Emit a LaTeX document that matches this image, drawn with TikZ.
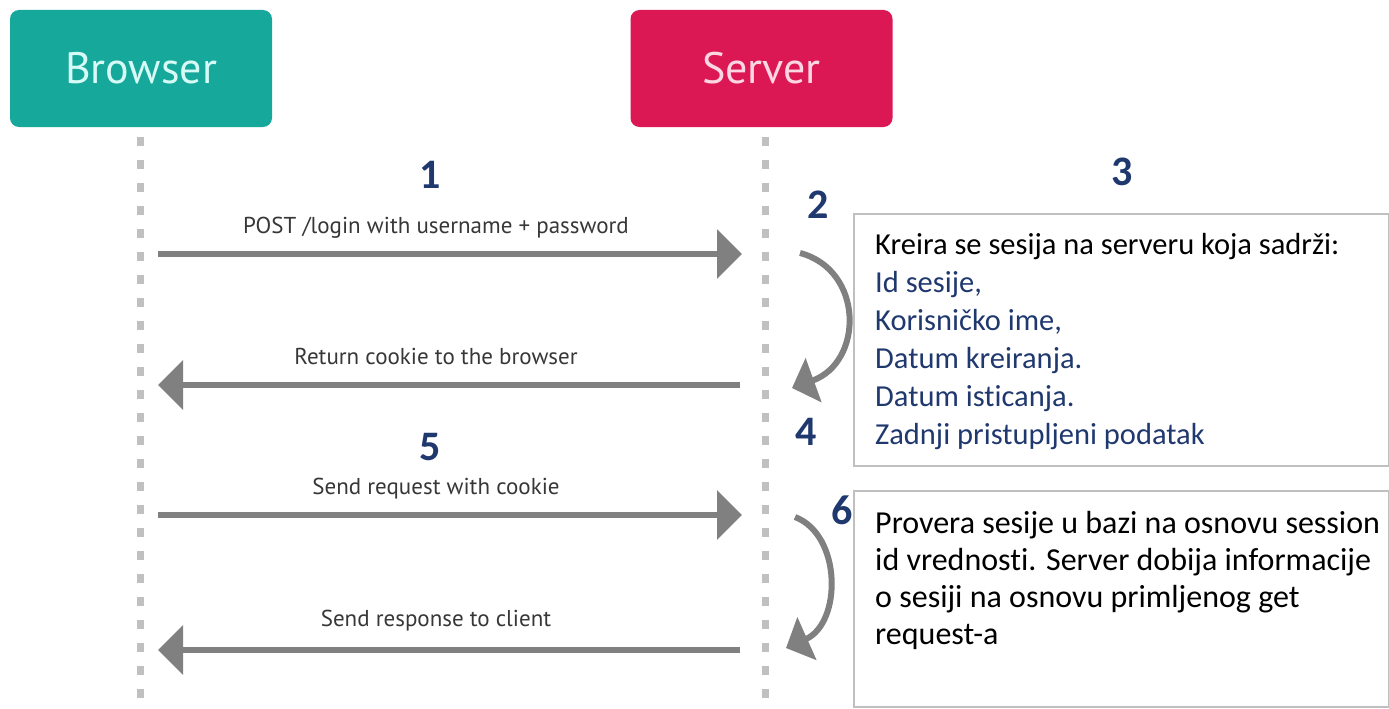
\documentclass[tikz,border=0pt]{standalone}
\usepackage{fontspec}
\setmainfont{Carlito}[Ligatures=NoCommon]
\newfontfamily\headfont{PT Sans}
\usepackage{tikz}
\usetikzlibrary{positioning,arrows.meta}
\definecolor{cbrowser}{RGB}{22,168,155}
\definecolor{cserver}{RGB}{220,24,84}
\definecolor{cbrowsertxt}{RGB}{214,250,245}
\definecolor{cservertxt}{RGB}{252,214,226}
\definecolor{cline}{RGB}{192,192,192}
\definecolor{cmsg}{RGB}{128,128,128}
\definecolor{cnavy}{RGB}{31,56,110}
\definecolor{cbox}{RGB}{191,191,191}
\definecolor{ctxt}{RGB}{55,55,55}

\begin{document}
\begin{tikzpicture}[
  x=1pt,y=-1pt,
  % the two parties on top, each with its lifeline below
  actor/.style={rounded corners=9pt,minimum width=262pt,minimum height=117pt,inner sep=0pt,
    font=\headfont\fontsize{44}{50}\selectfont},
  life/.style={cline,line width=7pt,dash pattern=on 9pt off 14pt},
  msg/.style={-{Triangle[length=25pt,width=48pt]},cmsg,line width=6.5pt},
  msglab/.style={font=\headfont\fontsize{23}{27}\selectfont,text=ctxt,inner sep=0pt},
  turn/.style={-{Triangle[length=23pt,width=46pt]},cmsg,line width=6pt},
  stepnum/.style={font=\bfseries\fontsize{42}{48}\selectfont,text=cnavy,inner sep=0pt},
  infobox/.style={draw=cbox,line width=1.5pt,anchor=north west,inner sep=0pt},
  info/.style={anchor=base west,inner sep=0pt,font=\fontsize{30.5}{36}\selectfont},
]
\useasboundingbox (0,0) rectangle (1389,709);

% =========== parties and lifelines ==========================================
\node[actor,fill=cbrowser,text=cbrowsertxt] (browser) at (141,68.5) {Browser};
\node[actor,fill=cserver,text=cservertxt]   (server)  at (761.5,68.5) {Server};
\coordinate (btop) at (140,137);
\coordinate (bbot) at (140,709);
\coordinate (stop) at (765,137);
\coordinate (sbot) at (765,709);
\draw[life] (btop) -- (bbot);
\draw[life] (stop) -- (sbot);

% =========== messages between browser and server ============================
\coordinate (m1b) at (158,254);  \coordinate (m1s) at (742,254);
\coordinate (m2b) at (158,385);  \coordinate (m2s) at (740,385);
\coordinate (m3b) at (158,515);  \coordinate (m3s) at (742,515);
\coordinate (m4b) at (158,650);  \coordinate (m4s) at (740,650);
\draw[msg] (m1b) -- (m1s);
\draw[msg] (m2s) -- (m2b);
\draw[msg] (m3b) -- (m3s);
\draw[msg] (m4s) -- (m4b);
\node[msglab] (l1) at (436,228) {POST /login with username + password};
\node[msglab] (l2) at (436,356) {Return cookie to the browser};
\node[msglab] (l3) at (436,489) {Send request with cookie};
\node[msglab] (l4) at (436,621) {Send response to client};

% =========== work done on the server ========================================
\coordinate (t2a) at (800,253);  \coordinate (t2b) at (792,388);
\coordinate (t6a) at (795,517);  \coordinate (t6b) at (786,648);
\draw[turn] (t2a) .. controls (864,270) and (864,362) .. (t2b);
\draw[turn] (t6a) .. controls (842,535) and (842,623) .. (t6b);

% =========== step numbers ===================================================
\node[stepnum] (n1) at (430,175) {1};
\node[stepnum] (n2) at (818,205) {2};
\node[stepnum] (n3) at (1122,172) {3};
\node[stepnum] (n4) at (806,432) {4};
\node[stepnum] (n5) at (430,447) {5};
\node[stepnum] (n6) at (842,510) {6};

% =========== notes ==========================================================
\node[infobox,minimum width=535pt,minimum height=252pt] (box3) at (853,213) {};
\node[info] (k0) at (875,254) {Kreira se sesija na serveru koja sadrži:};
\foreach \t [count=\i] in {{Id sesije,},{Korisničko ime,},{Datum kreiranja.},{Datum isticanja.},{Zadnji pristupljeni podatak}}{
  \node[info,text=cnavy] (k\i) at (875,254+38*\i) {\t};
}
\node[infobox,minimum width=535pt,minimum height=216pt] (box6) at (853,490) {};
\foreach \t [count=\i from 0] in {{Provera sesije u bazi na osnovu session},{id vrednosti. Server dobija informacije},{o sesiji na osnovu primljenog get},{request-a}}{
  \node[info,font=\fontsize{32}{38}\selectfont] (p\i) at (875,533+37*\i) {\t};
}

\end{tikzpicture}
\end{document}
